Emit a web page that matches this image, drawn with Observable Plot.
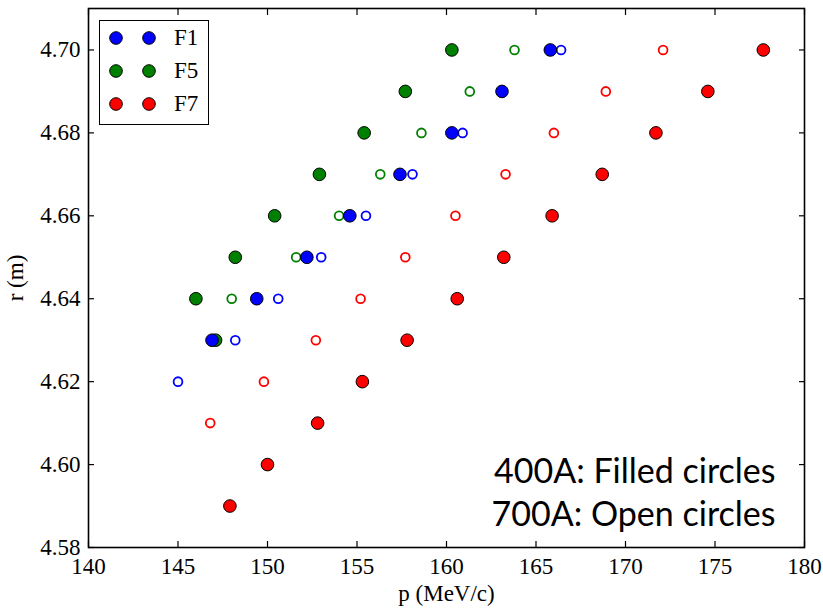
<!DOCTYPE html>
<html>
<head>
<meta charset="utf-8">
<script src="https://cdn.jsdelivr.net/npm/d3@7"></script>
<script src="https://cdn.jsdelivr.net/npm/@observablehq/plot@0.6"></script>
<style>
  html, body { margin: 0; padding: 0; background: #fff; }
  #wrap { position: relative; width: 823px; height: 612px; }
  #legend { position: absolute; left: 99px; top: 20px; width: 108px; height: 103px;
            border: 1.5px solid #000; background: #fff; box-sizing: content-box;
            font-family: "Liberation Serif", serif; font-size: 23px; }
  #legend .row { position: absolute; left: 0; height: 20px; }
  #legend svg { position: absolute; left: 0; top: 0; }
  #legend span { position: absolute; left: 74px; top: -3px; line-height: 26px; }
</style>
</head>
<body>
<div id="wrap"></div>
<script>
// ---- data ----
const seriesNames = ["F1", "F5", "F7"];
const seriesColors = ["#0000ff", "#008000", "#ff0000"];

const f1FilledR = [4.70, 4.69, 4.68, 4.67, 4.66, 4.65, 4.64, 4.63];
const f1FilledP = [165.8, 163.1, 160.3, 157.4, 154.6, 152.2, 149.4, 146.9];
const f1OpenR   = [4.70, 4.68, 4.67, 4.66, 4.65, 4.64, 4.63, 4.62];
const f1OpenP   = [166.4, 160.9, 158.1, 155.5, 153.0, 150.6, 148.2, 145.0];

const f5FilledR = [4.70, 4.69, 4.68, 4.67, 4.66, 4.65, 4.64, 4.63];
const f5FilledP = [160.3, 157.7, 155.4, 152.9, 150.4, 148.2, 146.0, 147.1];
const f5OpenR   = [4.70, 4.69, 4.68, 4.67, 4.66, 4.65, 4.64];
const f5OpenP   = [163.8, 161.3, 158.6, 156.3, 154.0, 151.6, 148.0];

const f7FilledR = [4.70, 4.69, 4.68, 4.67, 4.66, 4.65, 4.64, 4.63, 4.62, 4.61, 4.60, 4.59];
const f7FilledP = [177.7, 174.6, 171.7, 168.7, 165.9, 163.2, 160.6, 157.8, 155.3, 152.8, 150.0, 147.9];
const f7OpenR   = [4.70, 4.69, 4.68, 4.67, 4.66, 4.65, 4.64, 4.63, 4.62, 4.61];
const f7OpenP   = [172.1, 168.9, 166.0, 163.3, 160.5, 157.7, 155.2, 152.7, 149.8, 146.8];

const xTicks = [140, 145, 150, 155, 160, 165, 170, 175, 180];
const yTicks = [4.58, 4.60, 4.62, 4.64, 4.66, 4.68, 4.70];
const notes = ["400A: Filled circles", "700A: Open circles"];
const xLabel = "p (MeV/c)";
const yLabel = "r (m)";

// ---- build tables ----
function rows(name, ps, rs) { return ps.map((p, i) => ({series: name, p, r: rs[i]})); }
const filled = [
  ...rows("F7", f7FilledP, f7FilledR),
  ...rows("F5", f5FilledP, f5FilledR),
  ...rows("F1", f1FilledP, f1FilledR)
];
const open = [
  ...rows("F7", f7OpenP, f7OpenR),
  ...rows("F5", f5OpenP, f5OpenR),
  ...rows("F1", f1OpenP, f1OpenR)
];

const serif = "'Liberation Serif', 'Times New Roman', serif";

const chart = Plot.plot({
  width: 823,
  height: 612,
  marginLeft: 88,
  marginRight: 19,
  marginTop: 8,
  marginBottom: 65,
  style: {fontFamily: serif, fontSize: "23px", color: "#000", background: "#fff", overflow: "visible"},
  x: {domain: [140, 180]},
  y: {domain: [4.58, 4.71]},
  color: {domain: seriesNames, range: seriesColors},
  marks: [
    // inward ticks on all four sides
    Plot.axisX(xTicks, {anchor: "bottom", tickSize: -6, fill: "none", label: null, strokeWidth: 1.2}),
    Plot.axisX(xTicks, {anchor: "top", tickSize: -6, fill: "none", label: null, strokeWidth: 1.2}),
    Plot.axisY(yTicks, {anchor: "left", tickSize: -6, fill: "none", label: null, strokeWidth: 1.2}),
    Plot.axisY(yTicks, {anchor: "right", tickSize: -6, fill: "none", label: null, strokeWidth: 1.2}),
    // tick labels + axis labels
    Plot.axisX(xTicks, {anchor: "bottom", tickSize: 0, tickPadding: 10, stroke: "none",
      fontSize: 23, fontFamily: serif,
      label: xLabel, labelAnchor: "center", labelOffset: 53, labelArrow: "none"}),
    Plot.axisY(yTicks, {anchor: "left", tickSize: 0, tickPadding: 8, stroke: "none",
      fontSize: 23, fontFamily: serif,
      tickFormat: d3.format(".2f"),
      label: yLabel, labelAnchor: "center", labelOffset: 82, labelArrow: "none"}),
    Plot.frame({stroke: "#000", strokeWidth: 1.6}),
    // open circles (700A)
    Plot.dot(open, {x: "p", y: "r", stroke: "series", fill: "none", r: 4.4, strokeWidth: 1.8}),
    // filled circles (400A)
    Plot.dot(filled, {x: "p", y: "r", fill: "series", stroke: "#000", r: 6.3, strokeWidth: 1}),
    // annotation
    Plot.text([notes.join("\n")], {
      frameAnchor: "bottom-right", textAnchor: "end", lineAnchor: "bottom",
      lineHeight: 1.25, dx: -29, dy: -22,
      fontFamily: "Lato, 'Open Sans', sans-serif", fontSize: 34, fill: "#000"
    })
  ]
});

const wrap = document.getElementById("wrap");
wrap.appendChild(chart);

// legend (matplotlib style, two markers per entry)
const legend = document.createElement("div");
legend.id = "legend";
const rowYs = [17, 50, 83];
seriesNames.forEach((name, i) => {
  const row = document.createElement("div");
  row.className = "row";
  row.style.top = (rowYs[i] - 10) + "px";
  row.style.width = "108px";
  row.innerHTML =
    `<svg width="70" height="20"><circle cx="16" cy="10" r="6.3" fill="${seriesColors[i]}" stroke="#000" stroke-width="1"/>` +
    `<circle cx="49" cy="10" r="6.3" fill="${seriesColors[i]}" stroke="#000" stroke-width="1"/></svg>` +
    `<span>${name}</span>`;
  legend.appendChild(row);
});
wrap.appendChild(legend);
</script>
</body>
</html>
